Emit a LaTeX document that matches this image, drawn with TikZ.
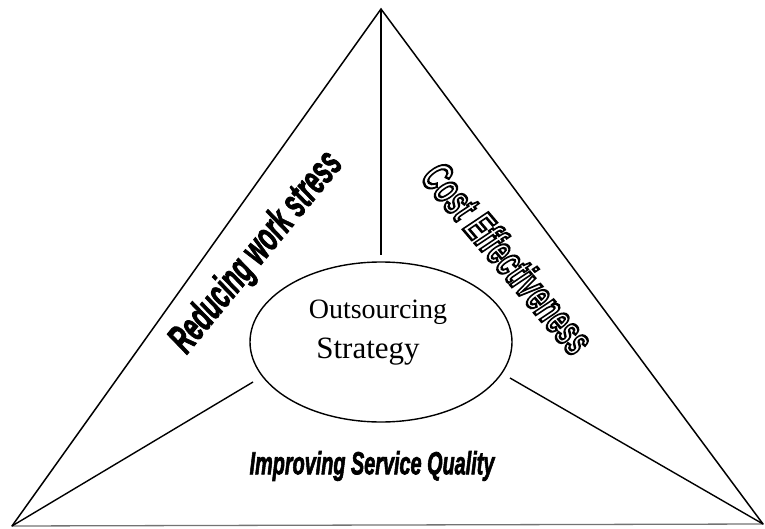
\documentclass[tikz,border=0pt]{standalone}
\usepackage{fontspec}
\setmainfont{Liberation Serif}
\newfontfamily\headsans{Liberation Sans}[FakeBold=2.5]
\newfontfamily\hollowsans{Liberation Sans}
\usetikzlibrary{shapes.geometric}

% outlined (hollow) lettering through the PDF text rendering mode
\newcommand{\hollowtext}[1]{\special{pdf:literal direct 1 Tr 2.6 w}#1\special{pdf:literal direct 0 Tr}}

\tikzset{
  edge/.style={line width=1.5pt, line cap=round, line join=miter},
  baseedge/.style={line width=1.3pt, draw=black!55},
  spoke/.style={line width=1.4pt},
  core/.style={ellipse, draw, line width=1.4pt, minimum width=262pt, minimum height=160pt, inner sep=0pt},
  serif/.style={inner sep=0pt, font=\fontsize{28}{30}\selectfont},
  sidelabel/.style={inner sep=0pt, font=\headsans\bfseries\itshape},
  hollowlabel/.style={inner sep=0pt, font=\hollowsans\bfseries\itshape}
}

\begin{document}
\begin{tikzpicture}[x=1pt, y=-1pt]
  \useasboundingbox (0,0) rectangle (765,529);

  % corners of the triangle
  \coordinate (top) at (381,9);
  \coordinate (bl) at (12,526);
  \coordinate (br) at (763,524);

  % the central ellipse
  \node[core] (strategy) at (381,342) {};
  \node[serif] (t1) at (378,312) {Outsourcing};
  \node[serif, font=\fontsize{31}{33}\selectfont] (t2) at (368,352) {Strategy};

  % ends of the three spokes
  \coordinate (sTop) at (381,255);
  \coordinate (sLeft) at (253,382);
  \coordinate (sRight) at (510,378);

  % triangle
  \draw[edge] (bl) -- (top) -- (br);
  \draw[baseedge] (bl) -- (br);

  % spokes
  \draw[spoke] (top) -- (sTop);
  \draw[spoke] (bl) -- (sLeft);
  \draw[spoke] (br) -- (sRight);

  % labels of the three sectors
  \node[sidelabel, rotate=50.5] (stress) at (257,253)
    {\scalebox{0.58}[1]{\fontsize{41}{44}\selectfont Reducing work stress}};
  \node[hollowlabel, rotate=-49.5] (cost) at (508,258)
    {\scalebox{0.6}[1]{\fontsize{44}{46}\selectfont\hollowtext{Cost Effectiveness}}};
  \node[sidelabel] (quality) at (372,466)
    {\scalebox{0.62}[1]{\fontsize{32}{34}\selectfont Improving Service Quality}};
\end{tikzpicture}
\end{document}
